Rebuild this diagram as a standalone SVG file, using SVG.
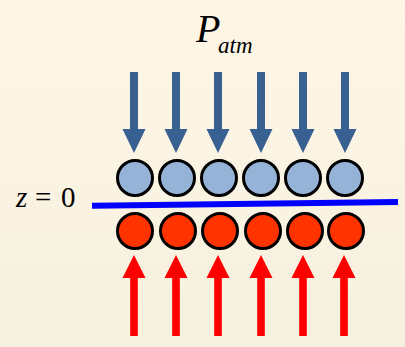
<svg xmlns="http://www.w3.org/2000/svg" width="405" height="347" viewBox="0 0 405 347">
<defs>
<linearGradient id="bg" x1="0" y1="0" x2="0" y2="1">
<stop offset="0" stop-color="#FFF6E6"/>
<stop offset="1" stop-color="#F6F0DF"/>
</linearGradient>
<path id="down" d="M-4,0 H4 V57 H11.5 L0,81 L-11.5,57 H-4 Z"/>
<path id="up" d="M-3.8,0 V-58 H-11.5 L0,-81 L11.5,-58 H3.8 V0 Z"/>
</defs>
<style>
.blue{fill:#95B3D7;stroke:#000;stroke-width:3}
.red{fill:#FF3300;stroke:#000;stroke-width:3}
.da{fill:#386192}
.ua{fill:#FF0000}
.t{font-family:"Liberation Serif",serif;fill:#000}
</style>
<rect width="405" height="347" fill="url(#bg)"/>
<g id="labels">
<text class="t" x="196" y="42" font-size="40" font-style="italic">P</text>
<text class="t" x="218" y="53" font-size="23" font-style="italic">atm</text>
<text class="t" x="16" y="207" font-size="29"><tspan font-style="italic">z</tspan><tspan x="35">=</tspan><tspan x="61">0</tspan></text>
</g>
<g id="connectors">
<g class="da">
<use href="#down" x="134" y="72"/>
<use href="#down" x="176" y="72"/>
<use href="#down" x="218" y="72"/>
<use href="#down" x="261" y="72"/>
<use href="#down" x="303" y="72"/>
<use href="#down" x="345" y="72"/>
</g>
<g class="ua">
<use href="#up" x="134" y="336"/>
<use href="#up" x="176" y="336"/>
<use href="#up" x="218" y="336"/>
<use href="#up" x="261" y="336"/>
<use href="#up" x="303" y="336"/>
<use href="#up" x="344" y="336"/>
</g>
</g>
<g id="surface">
<line x1="92" y1="205.7" x2="398" y2="202" stroke="#0000FF" stroke-width="6"/>
</g>
<g id="top-particles">
<circle class="blue" cx="135" cy="178" r="17.5"/>
<circle class="blue" cx="177" cy="178" r="17.5"/>
<circle class="blue" cx="219" cy="178" r="17.5"/>
<circle class="blue" cx="261" cy="178" r="17.5"/>
<circle class="blue" cx="303" cy="178" r="17.5"/>
<circle class="blue" cx="345" cy="178" r="17.5"/>
</g>
<g id="bottom-particles">
<circle class="red" cx="135" cy="231" r="17.5"/>
<circle class="red" cx="178" cy="231" r="17.5"/>
<circle class="red" cx="220" cy="231" r="17.5"/>
<circle class="red" cx="263" cy="231" r="17.5"/>
<circle class="red" cx="305" cy="231" r="17.5"/>
<circle class="red" cx="346" cy="231" r="17.5"/>
</g>
</svg>
